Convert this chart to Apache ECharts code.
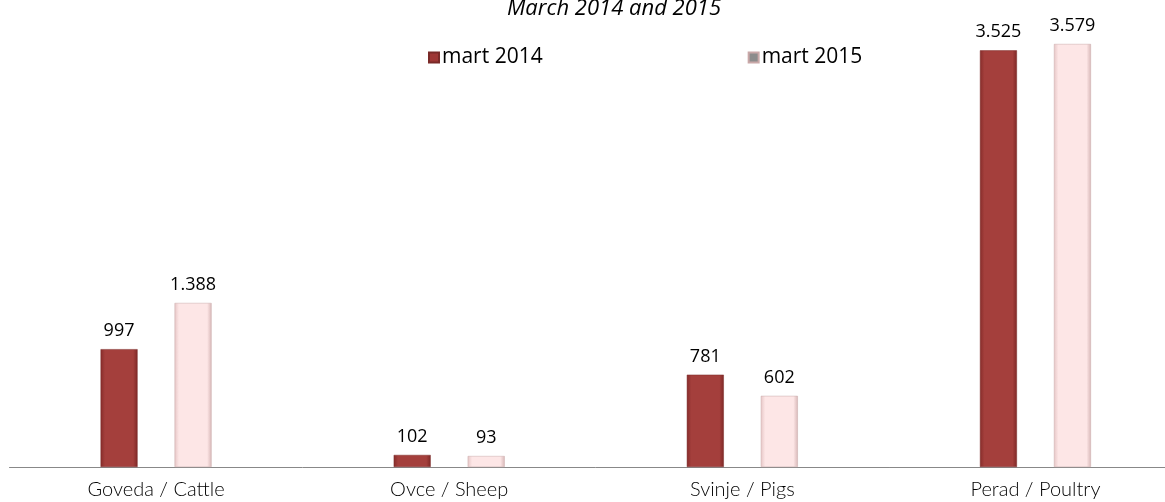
<!DOCTYPE html>
<html><head><meta charset="utf-8">
<script src="https://cdn.jsdelivr.net/npm/echarts@6/dist/echarts.min.js"></script>
<style>html,body{margin:0;padding:0;background:#fff;overflow:hidden}#c{width:1182px;height:502px}</style>
</head><body><div id="c"></div>
<script>
const categories = ['Goveda / Cattle', 'Ovce / Sheep', 'Svinje / Pigs', 'Perad / Poultry'];
const seriesNames = ['mart 2014', 'mart 2015'];
const values2014 = [997, 102, 781, 3525];
const values2015 = [1388, 93, 602, 3579];
const titleText = 'March 2014 and 2015';

const fmt = v => v.toLocaleString('de-DE');
const chart = echarts.init(document.getElementById('c'));
const darkGrad = new echarts.graphic.LinearGradient(0,0,1,0,[
  {offset:0,color:'#862c2a'},{offset:0.12,color:'#a43f3c'},{offset:0.88,color:'#a43f3c'},{offset:1,color:'#7e2826'}]);
const lightGrad = new echarts.graphic.LinearGradient(0,0,1,0,[
  {offset:0,color:'#e6c6c6'},{offset:0.12,color:'#fde6e6'},{offset:0.88,color:'#fde6e6'},{offset:1,color:'#d8b8b8'}]);
const labelStyle = {show:true, position:'top', distance:9, fontFamily:'Open Sans', fontSize:18, color:'#000', formatter:p=>fmt(p.value)};
chart.setOption({
  animation:false,
  title:{text:titleText, left:609, textAlign:'center', top:-7, textStyle:{fontFamily:'Open Sans', fontStyle:'italic', fontWeight:'normal', fontSize:22, color:'#000'}},
  legend:{top:42, left:423, itemGap:205, itemWidth:10, itemHeight:10, icon:'rect',
    textStyle:{fontFamily:'Open Sans', fontSize:21, color:'#000', padding:[0,0,0,-2]},
    data:[{name:seriesNames[0], itemStyle:{color:'#9e3735'}},{name:seriesNames[1], itemStyle:{color:'#8c8c8c'}}]},
  grid:{left:9.5, right:0, top:41.5, bottom:35, containLabel:false},
  xAxis:{type:'category', data:categories, axisTick:{show:false},
    axisLine:{lineStyle:{color:'#888', width:1}},
    axisLabel:{fontFamily:'Lato', fontWeight:300, fontSize:20, color:'#000', margin:13}},
  yAxis:{type:'value', min:0, max:3600, show:false, splitLine:{show:false}},
  series:[
    {name:seriesNames[0], type:'bar', data:values2014, barWidth:37, barGap:'100%',
     itemStyle:{color:darkGrad, borderColor:'#7a2a28', borderWidth:0.5}, label:labelStyle},
    {name:seriesNames[1], type:'bar', data:values2015, barWidth:37, barGap:'100%',
     itemStyle:{color:lightGrad, borderColor:'#c9a8a8', borderWidth:0.5}, label:labelStyle}
  ]
});
</script></body></html>
